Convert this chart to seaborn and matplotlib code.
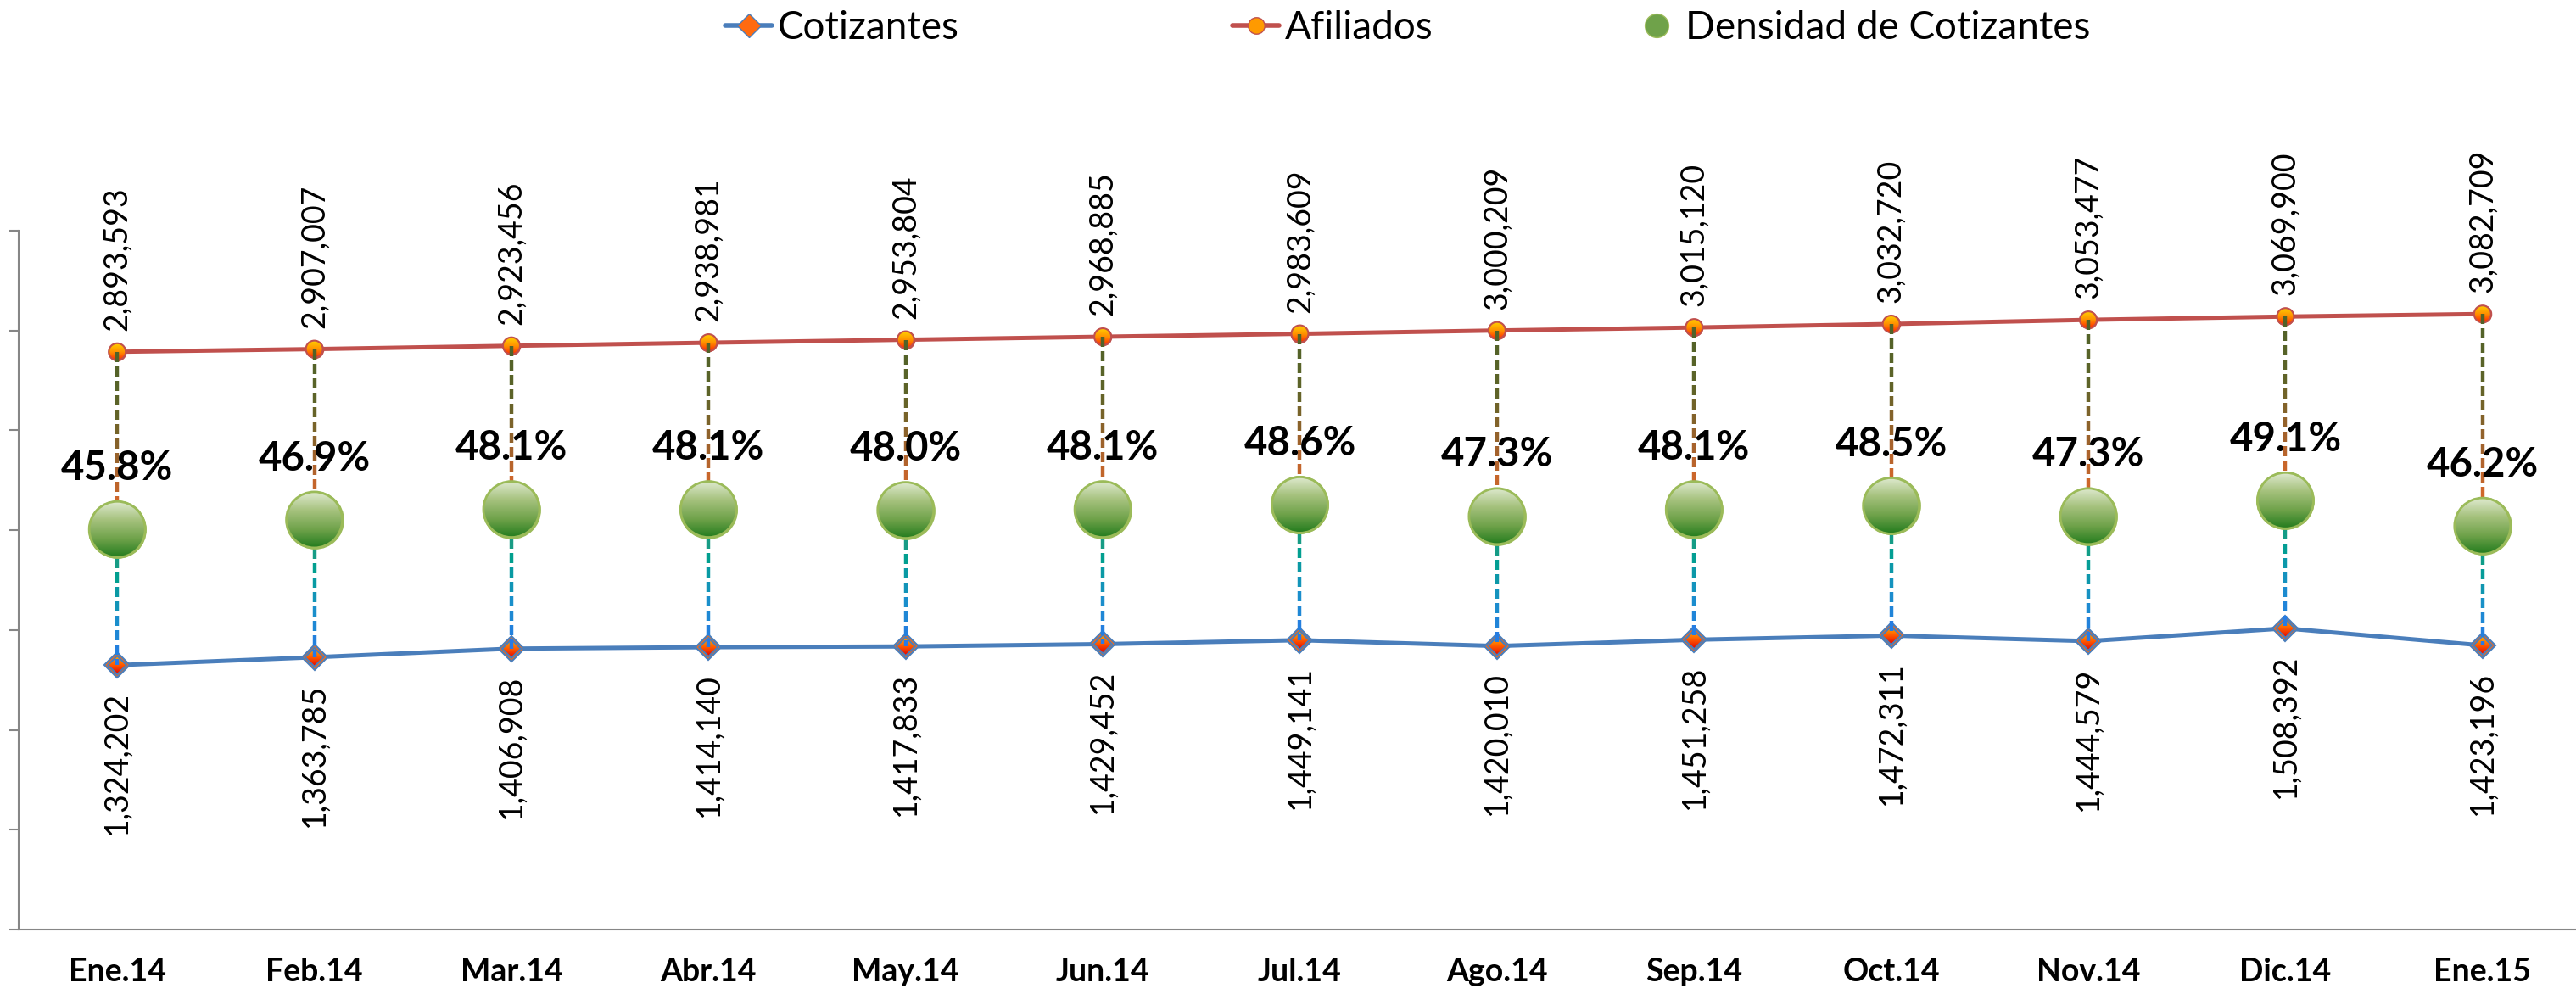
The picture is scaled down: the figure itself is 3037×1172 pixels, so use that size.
import numpy as np
import matplotlib
matplotlib.use('Agg')
import matplotlib.pyplot as plt
import seaborn as sns
from matplotlib.lines import Line2D
from matplotlib.patches import Circle, Polygon
from matplotlib.transforms import IdentityTransform
from matplotlib.colors import LinearSegmentedColormap
from matplotlib.collections import LineCollection

# datos
meses = ['Ene.14', 'Feb.14', 'Mar.14', 'Abr.14', 'May.14', 'Jun.14', 'Jul.14',
         'Ago.14', 'Sep.14', 'Oct.14', 'Nov.14', 'Dic.14', 'Ene.15']
afiliados = [2893593, 2907007, 2923456, 2938981, 2953804, 2968885, 2983609,
             3000209, 3015120, 3032720, 3053477, 3069900, 3082709]
cotizantes = [1324202, 1363785, 1406908, 1414140, 1417833, 1429452, 1449141,
              1420010, 1451258, 1472311, 1444579, 1508392, 1423196]
densidad = [45.8, 46.9, 48.1, 48.1, 48.0, 48.1, 48.6, 47.3, 48.1, 48.5, 47.3, 49.1, 46.2]

sns.set_style('white')
plt.rcParams['font.family'] = ['Lato', 'DejaVu Sans']
plt.rcParams['text.color'] = 'black'
plt.rcParams['xtick.color'] = 'black'
plt.rcParams['ytick.color'] = 'black'

W, H = 3037, 1172
fig = plt.figure(figsize=(W / 100, H / 100), dpi=100)
ax = fig.add_axes([22 / W, 76 / H, 3021 / W, 824 / H])
x = np.arange(len(meses))

azul = '#4A7EBB'
rojo = '#C0504D'

sns.lineplot(x=x, y=cotizantes, ax=ax, color=azul, linewidth=3.6, errorbar=None,
             marker='D', markersize=15, markerfacecolor='#FF6A10',
             markeredgecolor=azul, markeredgewidth=1.5, zorder=2)
sns.lineplot(x=x, y=afiliados, ax=ax, color=rojo, linewidth=3.6, errorbar=None,
             marker='o', markersize=14, markerfacecolor='#FF9A00',
             markeredgecolor=rojo, markeredgewidth=1.5, zorder=2)

ax.set_xlim(-0.5, 12.5)
ax.set_ylim(0, 3.5e6)
ax.set_yticks(np.arange(0, 3.5e6 + 1, 5e5))
ax.set_yticklabels([])
ax.set_xticks(x)
ax.set_xticklabels(meses, fontsize=27, fontweight='bold', color='black')
ax.tick_params(axis='y', direction='out', length=8, width=1.5, color='#868686', left=True)
ax.tick_params(axis='x', length=0, pad=24)
for s in ['top', 'right']:
    ax.spines[s].set_visible(False)
for s in ['left', 'bottom']:
    ax.spines[s].set_color('#868686')
    ax.spines[s].set_linewidth(1.5)
ax.set_xlabel('')
ax.set_ylabel('')

ax2 = ax.twinx()
ax2.set_ylim(0, 80)
ax2.set_xlim(-0.5, 12.5)
sns.scatterplot(x=x, y=densidad, ax=ax2, s=2256, color='#3F8A2E', edgecolor='#9BBB59',
                linewidth=2, zorder=3, legend=False)
ax2.axis('off')


def gradient_marks(axis, xs, ys, make_patch, half, colors, edge, lw, z):
    cmap = LinearSegmentedColormap.from_list('g', colors)
    grad = np.linspace(0, 1, 256).reshape(-1, 1)
    inv = axis.transData.inverted()
    xl, yl = axis.get_xlim(), axis.get_ylim()
    for xv, yv in zip(xs, ys):
        cx, cy = axis.transData.transform((xv, yv))
        x0, y0 = inv.transform((cx - half, cy - half))
        x1, y1 = inv.transform((cx + half, cy + half))
        im = axis.imshow(grad, extent=(x0, x1, y0, y1), cmap=cmap, aspect='auto',
                         zorder=z, interpolation='bilinear')
        clip = make_patch(cx, cy)
        clip.set_transform(IdentityTransform())
        im.set_clip_path(clip)
        ring = make_patch(cx, cy)
        ring.set_transform(IdentityTransform())
        ring.set_facecolor('none')
        ring.set_edgecolor(edge)
        ring.set_linewidth(lw)
        ring.set_zorder(z + 0.1)
        axis.add_artist(ring)
    axis.set_xlim(xl)
    axis.set_ylim(yl)


def circulo(r):
    return lambda cx, cy: Circle((cx, cy), r)


def rombo(r):
    return lambda cx, cy: Polygon([(cx, cy + r), (cx + r, cy), (cx, cy - r), (cx - r, cy)], closed=True)


gradient_marks(ax, x, afiliados, circulo(10), 11, ['#FFD400', '#FF9000', '#FF1A00'], rojo, 1.5, 2.5)
gradient_marks(ax, x, cotizantes, rombo(11), 11, ['#FFB000', '#FF5A00', '#E00000'], azul, 1.5, 2.5)
gradient_marks(ax2, x, densidad, circulo(33), 34, ['#E2ECD4', '#A6C27E', '#6FA24A', '#1F7A1C'],
               '#9BBB59', 2.0, 4)


def linea_gradiente(xv, y_top, y_bot, colors, dash=12, gap=5, lw=3.2):
    cmap = LinearSegmentedColormap.from_list('d', colors)
    cx = ax.transData.transform((xv, 0))[0]
    inv = ax.transData.inverted()
    segs, cols = [], []
    total = y_top - y_bot
    y = y_top
    while y > y_bot:
        y2 = max(y - dash, y_bot)
        t = (y_top - (y + y2) / 2) / total
        segs.append([inv.transform((cx, y)), inv.transform((cx, y2))])
        cols.append(cmap(t))
        y = y2 - gap
    ax.add_collection(LineCollection(segs, colors=cols, linewidths=lw, zorder=3, capstyle='butt'))


for xv, a, c, d in zip(x, afiliados, cotizantes, densidad):
    a_px = ax.transData.transform((xv, a))[1]
    c_px = ax.transData.transform((xv, c))[1]
    d_px = ax2.transData.transform((xv, d))[1]
    linea_gradiente(xv, a_px, d_px, ['#4F6228', '#5E6328', '#A8622C', '#F26B2A'])
    linea_gradiente(xv, d_px, c_px, ['#5A8F70', '#00A08C', '#1A8FCB', '#2878E8'])

for xv, a in zip(x, afiliados):
    ax.annotate(f'{a:,}', (xv, a), xytext=(0, 18), textcoords='offset points',
                rotation=90, ha='center', va='bottom', fontsize=27, color='black')
for xv, c in zip(x, cotizantes):
    ax.annotate(f'{c:,}', (xv, c), xytext=(0, -22), textcoords='offset points',
                rotation=90, ha='center', va='top', fontsize=27, color='black')
for xv, d in zip(x, densidad):
    ax2.annotate(f'{d:.1f}%', (xv, d), xytext=(0, 42), textcoords='offset points',
                 ha='center', va='baseline', fontsize=34, fontweight='bold',
                 color='black', zorder=6)

# leyenda: tres entradas colocadas como en el original
entradas = [
    (Line2D([], [], color=azul, lw=4, marker='D', markersize=14,
            markerfacecolor='#FF6A10', markeredgecolor=azul), 'Cotizantes', 855),
    (Line2D([], [], color=rojo, lw=4, marker='o', markersize=14,
            markerfacecolor='#FF9A00', markeredgecolor=rojo), 'Afiliados', 1453),
    (Line2D([], [], ls='none', marker='o', markersize=20,
            markerfacecolor='#6FA24A', markeredgecolor='#9BBB59'), 'Densidad de Cotizantes', 1925),
]
for h, lab, x0 in entradas:
    fig.legend([h], [lab], loc='center left', bbox_to_anchor=(x0 / W, 1 - 33 / H),
               frameon=False, fontsize=33, handlelength=1.2, handletextpad=0.15,
               borderpad=0, borderaxespad=0, labelcolor='black')

fig.savefig('out.png', dpi=100)
